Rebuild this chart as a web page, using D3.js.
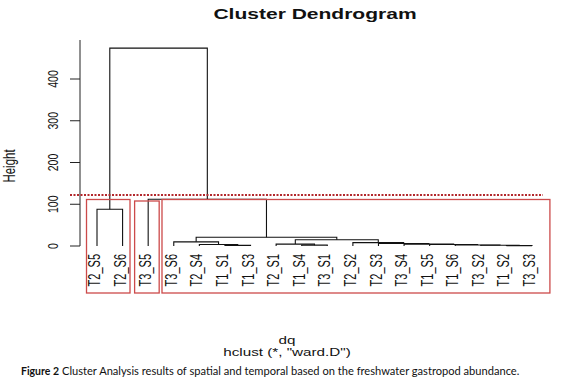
<!DOCTYPE html>
<html>
<head>
<meta charset="utf-8">
<script src="https://cdn.jsdelivr.net/npm/d3@7"></script>
<style>
  body { margin: 0; background: #fff; }
  svg { display: block; }
  text { font-family: "Liberation Sans", Arial, sans-serif; fill: #111; }
</style>
</head>
<body>
<script>
// leaf order as drawn
const leafLabels = ['T2_S5', 'T2_S6', 'T3_S5', 'T3_S6', 'T2_S4', 'T1_S1', 'T1_S3', 'T2_S1', 'T1_S4',
  'T3_S1', 'T2_S2', 'T2_S3', 'T3_S4', 'T1_S5', 'T1_S6', 'T3_S2', 'T1_S2', 'T3_S3'];

// hclust style merge table: negative = leaf (1-based), positive = earlier merge step
const mergeLeft = [-6, -5, -4, -9, -8, -17, -16, -15, -14, -13, -12, -11, 5, 3, -1, -3, 15];
const mergeRight = [-7, 1, 2, -10, 4, -18, 6, 7, 8, 9, 10, 11, 12, 13, -2, 14, 16];
const mergeHeight = [1.5, 3.5, 10, 2, 4.5, 1, 1.8, 2.5, 3.5, 4.5, 6, 8, 15, 21, 88, 112, 474];

const yTicks = [0, 100, 200, 300, 400];
const cutHeight = 122;
const clusterGroups = [
  ['T2_S5', 'T2_S6'],
  ['T3_S5'],
  ['T3_S6', 'T2_S4', 'T1_S1', 'T1_S3', 'T2_S1', 'T1_S4', 'T3_S1', 'T2_S2', 'T2_S3', 'T3_S4',
    'T1_S5', 'T1_S6', 'T3_S2', 'T1_S2', 'T3_S3'],
];

const width = 573;
const height = 379;
const sx = 1.45; // the figure is stretched sideways

const svg = d3.select('body').append('svg')
  .attr('width', width)
  .attr('height', height);

svg.append('rect').attr('width', width).attr('height', height).attr('fill', '#fff');

const x = d3.scalePoint().domain(leafLabels).range([97, 532]);
const y = d3.scaleLinear().domain([0, 400]).range([246, 79]);

// node positions
const nodes = [];
function pos(id) {
  if (id < 0) return { x: x(leafLabels[-id - 1]), h: 0 };
  return nodes[id - 1];
}
mergeHeight.forEach((h, i) => {
  const a = pos(mergeLeft[i]);
  const b = pos(mergeRight[i]);
  nodes.push({ x: (a.x + b.x) / 2, h, a, b });
});

// title
svg.append('text')
  .attr('transform', `translate(315,18.5) scale(${sx},1)`)
  .attr('text-anchor', 'middle')
  .style('font-size', '14.5px')
  .style('font-weight', 'bold')
  .text('Cluster Dendrogram');

// y axis
const axis = svg.append('g').attr('transform', 'translate(80,0)');
axis.append('line')
  .attr('y1', y(0)).attr('y2', 40)
  .attr('stroke', '#222').attr('stroke-width', 1);
axis.selectAll('.tick')
  .data(yTicks)
  .join('line')
  .attr('x1', -10).attr('x2', 0)
  .attr('y1', (d) => y(d)).attr('y2', (d) => y(d))
  .attr('stroke', '#222');
axis.selectAll('.lab')
  .data(yTicks)
  .join('text')
  .attr('transform', (d) => `translate(-27,${y(d)}) scale(${sx},1) rotate(-90)`)
  .attr('text-anchor', 'middle')
  .attr('dy', '0.35em')
  .style('font-size', '10.5px')
  .text((d) => d);

svg.append('text')
  .attr('transform', `translate(9,166) scale(${sx},1) rotate(-90)`)
  .attr('text-anchor', 'middle')
  .attr('dy', '0.35em')
  .style('font-size', '11.5px')
  .text('Height');

// dendrogram branches
svg.append('g')
  .selectAll('path')
  .data(nodes)
  .join('path')
  .attr('d', (n) => `M${n.a.x},${y(n.a.h)}V${y(n.h)}H${n.b.x}V${y(n.b.h)}`)
  .attr('fill', 'none')
  .attr('stroke', '#111')
  .attr('stroke-width', 1.1);

// leaf labels
svg.append('g')
  .selectAll('text')
  .data(leafLabels)
  .join('text')
  .attr('transform', (d) => `translate(${x(d) - 2.5},254) scale(${sx},1) rotate(-90)`)
  .attr('text-anchor', 'end')
  .attr('dy', '0.35em')
  .style('font-size', '11px')
  .text((d) => d);

// cut line
svg.append('line')
  .attr('x1', 70).attr('x2', 543)
  .attr('y1', y(cutHeight)).attr('y2', y(cutHeight))
  .attr('stroke', '#b3282d')
  .attr('stroke-width', 2)
  .attr('stroke-dasharray', '2,1.5');

// cluster boxes
const step = x.step();
const boxPad = [[0.41, 0.29, 199.5], [0.53, 0.43, 201], [0.46, 0.7, 199.5]];
svg.append('g')
  .selectAll('rect')
  .data(clusterGroups)
  .join('rect')
  .attr('x', (g, i) => x(g[0]) - boxPad[i][0] * step)
  .attr('y', (g, i) => boxPad[i][2])
  .attr('width', (g, i) => x(g[g.length - 1]) - x(g[0]) + (boxPad[i][0] + boxPad[i][1]) * step)
  .attr('height', (g, i) => 293 - boxPad[i][2])
  .attr('fill', 'none')
  .attr('stroke', '#cc4a4a')
  .attr('stroke-width', 1.3);

// x label and sub
svg.append('text')
  .attr('transform', `translate(287,344) scale(${sx},1)`)
  .attr('text-anchor', 'middle')
  .style('font-size', '10.5px')
  .text('dq');
svg.append('text')
  .attr('transform', `translate(287,356) scale(${sx},1)`)
  .attr('text-anchor', 'middle')
  .style('font-size', '10.5px')
  .text('hclust (*, "ward.D")');

// caption, font size fitted to the width it takes in the figure
function fitText(sel, target) {
  const w = sel.node().getComputedTextLength();
  const fs = parseFloat(sel.style('font-size'));
  sel.style('font-size', (fs * target / w).toFixed(2) + 'px');
}
const capFig = svg.append('text')
  .attr('x', 21)
  .attr('y', 375)
  .style('font-family', 'Lato, "Open Sans", sans-serif')
  .style('font-weight', 'bold')
  .style('font-size', '12px')
  .text('Figure 2');
fitText(capFig, 38);
const capRest = svg.append('text')
  .attr('x', 62)
  .attr('y', 375)
  .style('font-family', 'Lato, "Open Sans", sans-serif')
  .style('font-size', '12px')
  .text('Cluster Analysis results of spatial and temporal based on the freshwater gastropod abundance.');
fitText(capRest, 458);
</script>
</body>
</html>
